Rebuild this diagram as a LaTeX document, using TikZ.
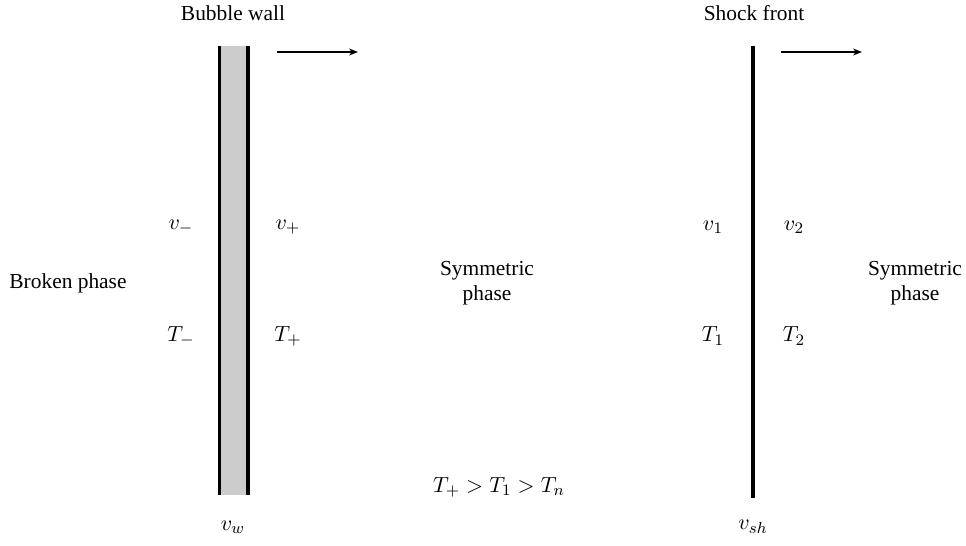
\documentclass[tikz,border=0pt]{standalone}
\usepackage{fontspec}
\setmainfont{Liberation Serif}
\usetikzlibrary{arrows.meta}
\begin{document}
\begin{tikzpicture}[x=0.5pt,y=-0.5pt,
  lbl/.style={font=\fontsize{10.7}{12.5}\selectfont, inner sep=0pt, align=center},
  mlbl/.style={font=\fontsize{11}{12.5}\selectfont, inner sep=0pt, align=center},
  wallline/.style={line width=1.6pt},
  movearrow/.style={line width=0.6pt,-{Stealth[length=4.5pt,width=3.5pt]}}]
\useasboundingbox (0,0) rectangle (966,546);
% bubble wall
\fill[gray!40] (219.5,45.5) rectangle (248,495);
\draw[wallline] (219.5,45.5) coordinate (wlt) -- (219.5,495) coordinate (wlb);
\draw[wallline] (248,45.5) coordinate (wrt) -- (248,495) coordinate (wrb);
\coordinate (a1s) at (277,52);
\coordinate (a1e) at (358,52);
\draw[movearrow] (a1s) -- (a1e);
\node[lbl] (bw) at (233,13) {Bubble wall};
% shock front
\draw[wallline] (753,45.5) coordinate (st) -- (753,498) coordinate (sb);
\coordinate (a2s) at (781,52);
\coordinate (a2e) at (862,52);
\draw[movearrow] (a2s) -- (a2e);
\node[lbl] (sf) at (754,13) {Shock front};
% labels
\node[mlbl] (vm) at (181,227) {$v_-$};
\node[mlbl] (vp) at (288,227) {$v_+$};
\node[mlbl] (tm) at (181,336) {$T_-$};
\node[mlbl] (tp) at (288,336) {$T_+$};
\node[mlbl] (v1) at (713,227) {$v_1$};
\node[mlbl] (v2) at (794,227) {$v_2$};
\node[mlbl] (t1) at (713,336) {$T_1$};
\node[mlbl] (t2) at (794,336) {$T_2$};
\node[lbl] (bp) at (68,283) {Broken phase};
\node[lbl] (sp1) at (487,283) {Symmetric\\phase};
\node[lbl] (sp2) at (915,283) {Symmetric\\phase};
\node[mlbl] (ineq) at (499,487) {$T_+ > T_1 > T_n$};
\node[mlbl] (vw) at (233,527) {$v_w$};
\node[mlbl] (vsh) at (753,527) {$v_{sh}$};
\end{tikzpicture}
\end{document}
